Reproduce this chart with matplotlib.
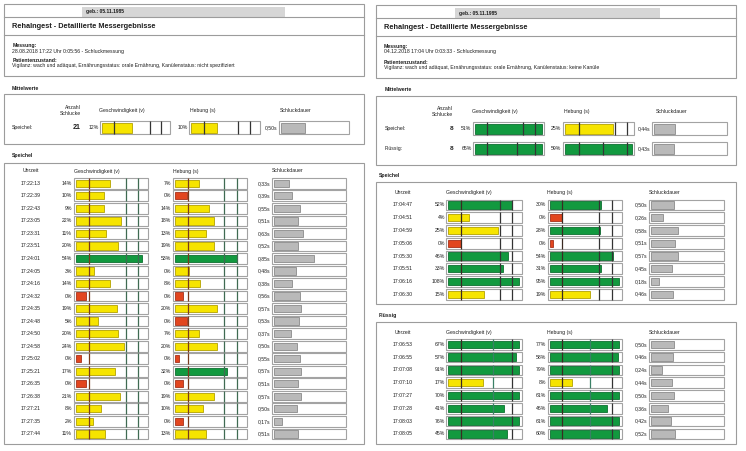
import matplotlib.pyplot as plt
from matplotlib.patches import Rectangle

# ---------------- left report: 28.08.2018 ----------------
L_TIMES = ['17:22:13', '17:22:39', '17:22:43', '17:23:05', '17:23:31', '17:23:51', '17:24:01',
           '17:24:05', '17:24:16', '17:24:32', '17:24:35', '17:24:48', '17:24:50', '17:24:58',
           '17:25:02', '17:25:21', '17:26:35', '17:26:38', '17:27:21', '17:27:35', '17:27:44']
L_SPEED = [14, 10, 9, 22, 11, 20, 54, 3, 14, 0, 19, 5, 20, 24, 0, 17, 0, 21, 8, 2, 11]
L_SPEED_BAR = [48, 41, 40, 64, 43, 59, 92, 27, 48, 16, 58, 32, 59, 68, 9, 55, 16, 62, 37, 25, 42]
L_SPEED_LEVEL = 'yyyyyygyyryyyyryryyyy'
L_LIFT = [7, 0, 14, 18, 13, 19, 53, 0, 8, 0, 20, 0, 7, 20, 0, 32, 0, 19, 10, 0, 13]
L_LIFT_BAR = [35, 19, 48, 55, 45, 56, 86, 22, 37, 13, 59, 19, 35, 59, 8, 73, 14, 56, 40, 13, 45]
L_LIFT_LEVEL = 'yryyyygyyryryyrgryyry'
L_DUR = [0.33, 0.39, 0.55, 0.51, 0.63, 0.52, 0.85, 0.48, 0.38, 0.56, 0.57,
         0.53, 0.37, 0.50, 0.55, 0.57, 0.51, 0.57, 0.50, 0.17, 0.51]
L_MEAN_COUNT = 21
L_MEAN_SPEED, L_MEAN_SPEED_BAR = 12, 45
L_MEAN_LIFT, L_MEAN_LIFT_BAR = 10, 40
L_MEAN_DUR = 0.50

# ---------------- right report: 04.12.2018 ----------------
R_S_TIMES = ['17:04:47', '17:04:51', '17:04:59', '17:05:06', '17:05:30', '17:05:51', '17:06:16', '17:06:30']
R_S_SPEED = [52, 4, 25, 0, 46, 33, 108, 15]
R_S_SPEED_BAR = [87, 30, 68, 19, 82, 75, 96, 50]
R_S_SPEED_LEVEL = 'gyyrgggy'
R_S_LIFT = [30, 0, 28, 0, 54, 31, 95, 19]
R_S_LIFT_BAR = [71, 19, 70, 7, 87, 72, 96, 57]
R_S_LIFT_LEVEL = 'grgrgggy'
R_S_DUR = [0.50, 0.26, 0.58, 0.51, 0.57, 0.45, 0.18, 0.46]

R_F_TIMES = ['17:06:53', '17:06:55', '17:07:08', '17:07:10', '17:07:27', '17:07:28', '17:08:03', '17:08:05']
R_F_SPEED = [67, 57, 91, 17, 70, 41, 76, 45]
R_F_SPEED_BAR = [96, 92, 96, 48, 96, 76, 96, 80]
R_F_SPEED_LEVEL = 'gggygggg'
R_F_LIFT = [77, 58, 79, 8, 61, 46, 61, 60]
R_F_LIFT_BAR = [96, 94, 96, 32, 96, 80, 96, 96]
R_F_LIFT_LEVEL = 'gggygggg'
R_F_DUR = [0.50, 0.46, 0.24, 0.44, 0.50, 0.36, 0.42, 0.52]

R_MEAN_NAMES = ['Speichel:', 'Flüssig:']
R_MEAN_COUNT = [8, 8]
R_MEAN_SPEED = [51, 65]
R_MEAN_SPEED_BAR = [97, 97]
R_MEAN_SPEED_LEVEL = 'gg'
R_MEAN_LIFT = [25, 59]
R_MEAN_LIFT_BAR = [70, 97]
R_MEAN_LIFT_LEVEL = 'yg'
R_MEAN_DUR = [0.44, 0.43]

# threshold marks on the tracks (% of track width)
L_MEAN_SPEED_MARKS = [20.3, 70.7, 86.8]
L_MEAN_LIFT_MARKS = [20.7, 69.7, 86.8]
L_SPEED_MARKS = [20, 70, 87]
L_LIFT_MARKS = [20, 69, 87]
R_S_SPEED_MARKS = [20, 70.5, 86.5]
R_S_LIFT_MARKS = [19.5, 69, 86.5]
R_F_SPEED_MARKS = [20, 62, 86.5]
R_F_LIFT_MARKS = [19.5, 56, 86.5]
R_MEAN_SPEED_MARKS = [[20, 71, 88], [20, 62, 88]]
R_MEAN_LIFT_MARKS = [[22, 73, 90], [22, 57, 90]]

W, H = 746, 451
SEC_PX = 46.8  # pixels per second on the Schluckdauer track

FILL = {'g': '#12993f', 'y': '#f6e400', 'r': '#e2461f'}
EDGE = {'g': '#0c7030', 'y': '#b3a200', 'r': '#a8301a'}
LEFT_MARK_COLORS = ['#7a3b1c', '#3f6b52', '#3f6b52']
RIGHT_MARK_COLORS = ['#3a2a22', '#333333', '#333333']
FLUID_MARK_COLORS = ['#3a2a22', '#3a8066', '#333333']
INK = '#1e1e1e'

plt.rcParams['font.family'] = ['Liberation Sans', 'DejaVu Sans']
fig = plt.figure(figsize=(W / 100, H / 100), dpi=100)
base = fig.add_axes([0, 0, 1, 1])
base.set_xlim(0, W)
base.set_ylim(H, 0)
base.axis('off')


def txt(x, y, s, size=3.7, bold=False, ha='left'):
    base.text(x, y, s, fontsize=size, fontweight='bold' if bold else 'normal',
              ha=ha, va='center', color=INK)


def frame(x0, y0, x1, y1):
    base.add_patch(Rectangle((x0, y0), x1 - x0, y1 - y0, fill=False, ec='#9c9c9c', lw=0.8))


def track(x0, x1, y0, pitch, n, box_px, secs=False):
    top = y0 - pitch / 2
    h = pitch * n
    ax = fig.add_axes([x0 / W, 1 - (top + h) / H, (x1 - x0) / W, h / H])
    if secs:
        ax.set_xlim(-2 / SEC_PX, (x1 - x0 - 2) / SEC_PX)
    else:
        ax.set_xlim(0, 100)
    ax.set_ylim(n - 0.5, -0.5)
    ax.axis('off')
    lo, hi = ax.get_xlim()
    rows = list(range(n))
    ax.barh(rows, hi - lo, left=lo, height=box_px / pitch, color='white',
            edgecolor='#a3a3a3', lw=0.8, clip_on=False)
    return ax, rows


def pct_track(x0, x1, y0, pitch, values, bars, levels, marks, mark_colors, label_x,
              box_px=10.7, bar_px=7.3):
    ax, rows = track(x0, x1, y0, pitch, len(values), box_px)
    inset = 200 / (x1 - x0)
    ax.barh(rows, [b - inset for b in bars], left=inset, height=bar_px / pitch,
            color=[FILL[c] for c in levels], edgecolor=[EDGE[c] for c in levels],
            lw=0.6, clip_on=False)
    half = box_px / pitch / 2
    for m, c in zip(marks, mark_colors):
        ax.vlines([m] * len(rows), [r - half for r in rows], [r + half for r in rows],
                  color=c, lw=0.9, clip_on=False)
    for r, v in zip(rows, values):
        txt(label_x, y0 + r * pitch, f'{v}%', ha='right')


def sec_track(x0, x1, y0, pitch, secs, label_x, box_px=10.7, bar_px=7.3):
    ax, rows = track(x0, x1, y0, pitch, len(secs), box_px, secs=True)
    ax.barh(rows, secs, height=bar_px / pitch, color='#b9b9b9', edgecolor='#8a8a8a',
            lw=0.6, clip_on=False)
    for r, s in zip(rows, secs):
        txt(label_x, y0 + r * pitch, f'{s:.2f}s'.replace('.', ','), ha='right')


def page_head(x0, x1, y0, y1, bar_x0, bar_x1, date_line, state_line):
    frame(x0, y0, x1, y1)
    base.plot([x0, x1], [y0 + 12.5, y0 + 12.5], color='#9c9c9c', lw=0.8)
    base.plot([x0, x1], [y0 + 30.5, y0 + 30.5], color='#9c9c9c', lw=0.8)
    base.add_patch(Rectangle((bar_x0, y0 + 2.5), bar_x1 - bar_x0, 10, fc='#d6d6d6', ec='none'))
    tx = x0 + 8.5
    txt(bar_x0 + 4, y0 + 8, 'geb.: 05.11.1985', 3.6, True)
    txt(tx, y0 + 22.5, 'RehaIngest - Detaillierte Messergebnisse', 5.3, True)
    txt(tx, y0 + 41.5, 'Messung:', bold=True)
    txt(tx, y0 + 47, date_line)
    txt(tx, y0 + 57, 'Patientenzustand:', bold=True)
    txt(tx, y0 + 62, state_line)


def table_head(time_x, speed_x, lift_x, dur_x, y):
    txt(time_x, y, 'Uhrzeit', ha='center')
    txt(speed_x, y, 'Geschwindigkeit (v)')
    txt(lift_x, y, 'Hebung (s)')
    txt(dur_x, y, 'Schluckdauer')


# ================= left page =================
page_head(4, 364, 4, 76, 82, 285,
          '28.08.2018 17:22 Uhr 0:05:56 - Schluckmessung',
          'Vigilanz: wach und adäquat, Ernährungsstatus: orale Ernährung, Kanülenstatus: nicht spezifiziert')

txt(12, 88, 'Mittelwerte', bold=True)
frame(4, 94, 364, 144)
txt(81, 107.3, 'Anzahl', ha='right')
txt(81, 113.6, 'Schlucke', ha='right')
txt(99, 110.7, 'Geschwindigkeit (v)')
txt(189.5, 110.7, 'Hebung (s)')
txt(279.5, 110.7, 'Schluckdauer')
txt(12, 127.7, 'Speichel:')
txt(80.5, 127.7, str(L_MEAN_COUNT), 5, True, ha='right')
pct_track(100, 170.3, 127.7, 16, [L_MEAN_SPEED], [L_MEAN_SPEED_BAR], 'y',
          L_MEAN_SPEED_MARKS, ['#333333'] * 3, 98.7, box_px=13.3, bar_px=10)
pct_track(189.3, 259.7, 127.7, 16, [L_MEAN_LIFT], [L_MEAN_LIFT_BAR], 'y',
          L_MEAN_LIFT_MARKS, ['#333333'] * 3, 188.3, box_px=13.3, bar_px=10)
sec_track(279.3, 349.3, 127.7, 16, [L_MEAN_DUR], 277.7, box_px=13.3, bar_px=10)

txt(12, 155, 'Speichel', bold=True)
frame(4, 163, 364, 444)
table_head(31, 74, 173, 272, 171)
pitch = 12.53
for i, t in enumerate(L_TIMES):
    txt(31, 183.3 + i * pitch, t, ha='center')
pct_track(74, 148, 183.3, pitch, L_SPEED, L_SPEED_BAR, L_SPEED_LEVEL,
          L_SPEED_MARKS, LEFT_MARK_COLORS, 72)
pct_track(173, 247, 183.3, pitch, L_LIFT, L_LIFT_BAR, L_LIFT_LEVEL,
          L_LIFT_MARKS, LEFT_MARK_COLORS, 171)
sec_track(272, 346, 183.3, pitch, L_DUR, 270)

# ================= right page =================
page_head(375.5, 736, 5, 77.5, 455, 660,
          '04.12.2018 17:04 Uhr 0:03:33 - Schluckmessung',
          'Vigilanz: wach und adäquat, Ernährungsstatus: orale Ernährung, Kanülenstatus: keine Kanüle')

txt(384.5, 89.5, 'Mittelwerte', bold=True)
frame(375.5, 96, 736, 165)
txt(453, 108, 'Anzahl', ha='right')
txt(453, 114.5, 'Schlucke', ha='right')
txt(472, 111.5, 'Geschwindigkeit (v)')
txt(563.5, 111.5, 'Hebung (s)')
txt(655.5, 111.5, 'Schluckdauer')
for i, name in enumerate(R_MEAN_NAMES):
    y = 128.5 + 20 * i
    txt(384.5, y, name)
    txt(453, y, str(R_MEAN_COUNT[i]), 4.6, True, ha='right')
    pct_track(473, 544, y, 20, [R_MEAN_SPEED[i]], [R_MEAN_SPEED_BAR[i]], R_MEAN_SPEED_LEVEL[i],
              R_MEAN_SPEED_MARKS[i], ['#333333'] * 3, 471.5, box_px=13.5, bar_px=10)
    pct_track(563, 634, y, 20, [R_MEAN_LIFT[i]], [R_MEAN_LIFT_BAR[i]], R_MEAN_LIFT_LEVEL[i],
              R_MEAN_LIFT_MARKS[i], ['#333333'] * 3, 561.5, box_px=13.5, bar_px=10)
    sec_track(652, 727, y, 20, [R_MEAN_DUR[i]], 650.5, box_px=13.5, bar_px=10)

sections = [
    ('Speichel', 175, 182, 304, 192.3, 205.0, 12.75, R_S_TIMES, R_S_SPEED, R_S_SPEED_BAR,
     R_S_SPEED_LEVEL, R_S_SPEED_MARKS, R_S_LIFT, R_S_LIFT_BAR, R_S_LIFT_LEVEL, R_S_LIFT_MARKS,
     R_S_DUR, RIGHT_MARK_COLORS),
    ('Flüssig', 315, 322, 444, 332.3, 344.3, 12.8, R_F_TIMES, R_F_SPEED, R_F_SPEED_BAR,
     R_F_SPEED_LEVEL, R_F_SPEED_MARKS, R_F_LIFT, R_F_LIFT_BAR, R_F_LIFT_LEVEL, R_F_LIFT_MARKS,
     R_F_DUR, FLUID_MARK_COLORS),
]
for (name, ly, by0, by1, hy, y0, p, times, sp, spb, spl, spm, li, lib, lil, lim,
     dur, mcol) in sections:
    txt(379, ly, name, bold=True)
    frame(375.5, by0, 736, by1)
    table_head(403, 446.3, 547.3, 648.3, hy)
    for i, t in enumerate(times):
        txt(403, y0 + i * p, t, ha='center')
    pct_track(446.3, 522, y0, p, sp, spb, spl, spm, mcol, 445)
    pct_track(548, 622.3, y0, p, li, lib, lil, lim, mcol, 546)
    sec_track(649, 723.7, y0, p, dur, 647)

fig.savefig('out.png', dpi=100)
